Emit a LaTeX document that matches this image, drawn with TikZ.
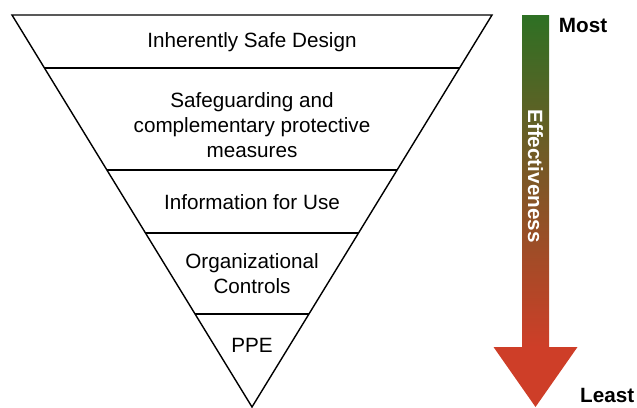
\documentclass[tikz,border=0pt]{standalone}
\usepackage{fontspec}
\setmainfont{Liberation Sans}
\usetikzlibrary{calc}
\definecolor{effgreen}{RGB}{46,112,36}
\definecolor{effred}{RGB}{206,62,40}

\begin{document}
\begin{tikzpicture}[font=\fontsize{14.7}{17.8}\selectfont]
	\def\rimy{9.8}
	\def\halfw{6}
	\def\midx{6.3}
	\def\arrx{13.3875}
	\tikzset{
		tier/.style={line width=1pt},
		tierlabel/.style={align=center, anchor=center},
		endlabel/.style={anchor=west, font=\fontsize{14.7}{17.8}\selectfont\bfseries},
	}
	\useasboundingbox (0,0) rectangle (15.925,10.175);

	% inverted pyramid
	\coordinate (apex) at (\midx,0);
	\coordinate (TL) at (\midx-\halfw,\rimy);
	\coordinate (TR) at (\midx+\halfw,\rimy);

	\draw[tier, line join=miter] (TL) -- (TR) -- (apex) -- cycle;

	\foreach \h [count=\i] in {8.475, 5.925, 4.35, 2.325}{
		\draw[tier] ($(apex)!\h/\rimy!(TL)$) coordinate (L\i) -- ($(apex)!\h/\rimy!(TR)$) coordinate (R\i);
	}

	\node[tierlabel] (design) at (\midx,9.125) {Inherently Safe Design};
	\node[tierlabel] (guard) at (\midx,7.05) {Safeguarding and\\complementary protective\\measures};
	\node[tierlabel] (info) at (\midx,5.125) {Information for Use};
	\node[tierlabel] (orgctl) at (\midx,3.325) {Organizational\\Controls};
	\node[tierlabel] (ppe) at (\midx,1.55) {PPE};

	% effectiveness arrow
	\shade[top color=effgreen, bottom color=effred] (\arrx-0.3375,\rimy) rectangle (\arrx+0.3375,1.5);
	\fill[effred] (\arrx-1.05,1.5) -- (\arrx+1.05,1.5) -- (\arrx,0) -- cycle;

	\node[rotate=-90, text=white, font=\fontsize{14.7}{17.8}\selectfont\bfseries] (eff) at (\arrx,5.775) {Effectiveness};

	\node[endlabel] (most) at (13.85,9.55) {Most};
	\node[endlabel] (least) at (14.38,0.3) {Least};
\end{tikzpicture}
\end{document}
